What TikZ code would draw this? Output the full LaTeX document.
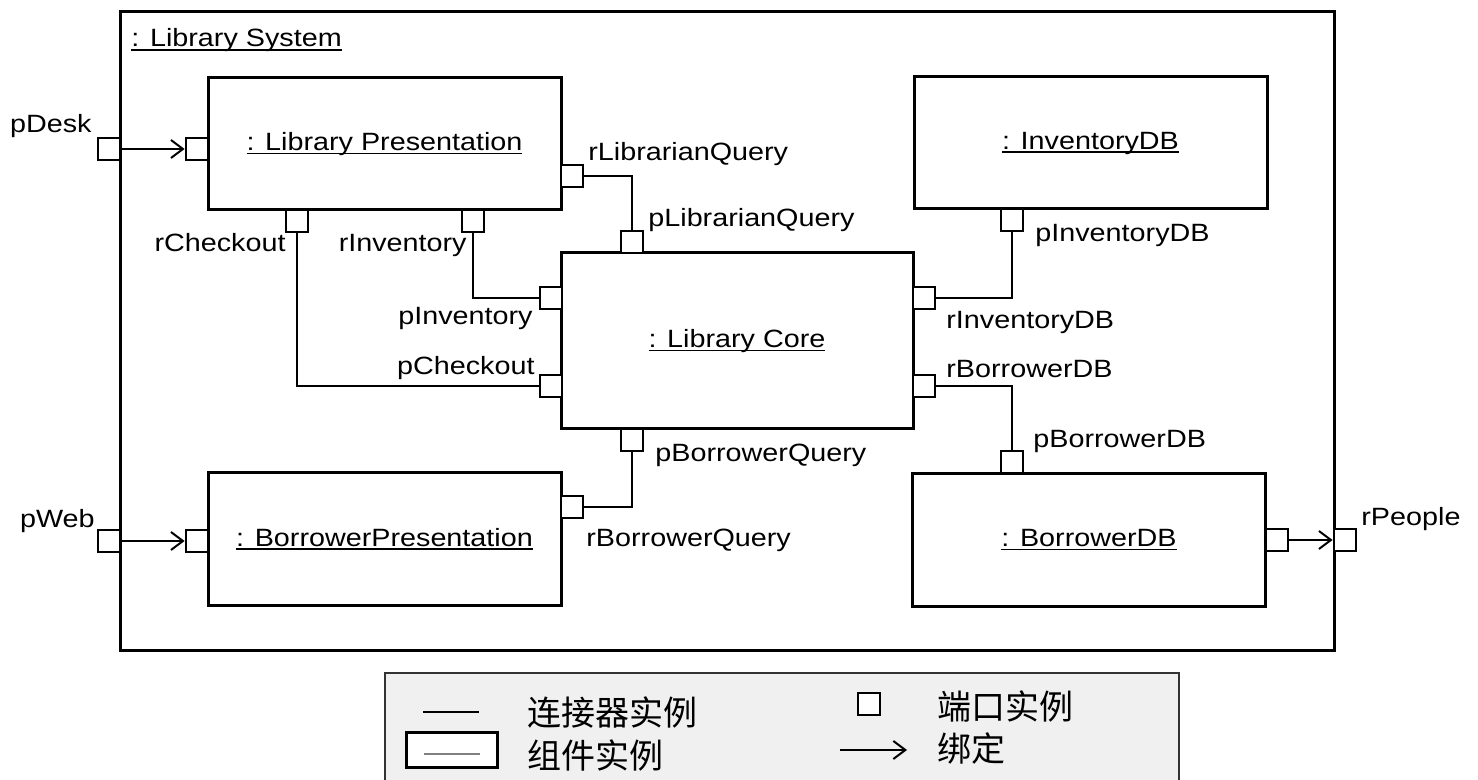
\documentclass[tikz,border=0pt]{standalone}
\usepackage{fontspec}
\setmainfont{Liberation Sans}[FakeStretch=1.15]
\newfontfamily\cjkfont{Noto Sans CJK SC}
\usetikzlibrary{arrows.meta,positioning}
\newsavebox\unamebox
\newcommand{\uname}[1]{\sbox\unamebox{#1}\rlap{\rule[-1.8pt]{\wd\unamebox}{0.75pt}}\usebox\unamebox}

\begin{document}
\begin{tikzpicture}[
    x=0.5pt, y=-0.5pt,
    font=\fontsize{12.5}{15}\selectfont,
    comp/.style={draw, line width=1.5pt, fill=white, minimum width=176.5pt, minimum height=66pt, inner sep=0pt},
    port/.style={draw, line width=1.35pt, fill=white, minimum size=11pt, inner sep=0pt},
    lbl/.style={inner sep=0pt},
    conn/.style={line width=1pt},
    bind/.style={line width=1pt, -{Straight Barb[length=6pt, width=9pt, line width=1pt]}},
    legtext/.style={font=\cjkfont\fontsize{17}{19}\selectfont, inner sep=0pt, anchor=west}
  ]
    \useasboundingbox (0,0) rectangle (1478,780);
    \clip (0,0) rectangle (1478,780);
    \fill[white] (0,0) rectangle (1478,780);

    \node[draw, line width=1.5pt, minimum width=607pt, minimum height=319pt] (system) at (727,331) {};
    \node[lbl, anchor=base west] (systemname) at (131,47) {\uname{: Library System}};

    \node[comp] (libpres) at (384.5,144) {\uname{: Library Presentation}};
    \node[comp] (invdb) at (1090.5,143) {\uname{: InventoryDB}};
    \node[comp, minimum width=176pt, minimum height=88pt] (core) at (737,341) {\uname{: Library Core}};
    \node[comp] (borrpres) at (384.5,539) {\uname{: BorrowerPresentation}};
    \node[comp] (borrdb) at (1089,540) {\uname{: BorrowerDB}};

    \node[port] (pdesk) at (109,149) {};
    \node[port] (lpin) at (197,149) {};
    \node[port] (rlq) at (572,176) {};
    \node[port] (rchk) at (297,221) {};
    \node[port] (rinv) at (473,221) {};
    \node[port] (plq) at (632,242) {};
    \node[port] (pinv) at (551,298) {};
    \node[port] (pchk) at (551,386) {};
    \node[port] (rinvdb) at (924,298) {};
    \node[port] (rbdb) at (924,386) {};
    \node[port] (pbq) at (632,440) {};
    \node[port] (pinvdb) at (1012,220) {};
    \node[port] (pbdb) at (1012,462) {};
    \node[port] (pweb) at (109,541) {};
    \node[port] (bpin) at (197,541) {};
    \node[port] (rbq) at (572,507) {};
    \node[port] (bdbout) at (1277,540) {};
    \node[port] (rpeople) at (1345,540) {};

    \node[lbl, anchor=base east] (tpdesk) at (92,133) {pDesk};
    \node[lbl, anchor=base east] (tpweb) at (95,528) {pWeb};
    \node[lbl, anchor=base west] (trlq) at (588,161) {rLibrarianQuery};
    \node[lbl, anchor=base west] (tplq) at (648,227) {pLibrarianQuery};
    \node[lbl, anchor=base east] (trchk) at (286,252) {rCheckout};
    \node[lbl, anchor=base east] (trinv) at (467,252) {rInventory};
    \node[lbl, anchor=base east] (tpinv) at (533,325) {pInventory};
    \node[lbl, anchor=base east] (tpchk) at (535,375) {pCheckout};
    \node[lbl, anchor=base west] (trinvdb) at (946,329) {rInventoryDB};
    \node[lbl, anchor=base west] (trbdb) at (946,378) {rBorrowerDB};
    \node[lbl, anchor=base west] (tpinvdb) at (1035,242) {pInventoryDB};
    \node[lbl, anchor=base west] (tpbdb) at (1033,448) {pBorrowerDB};
    \node[lbl, anchor=base west] (tpbq) at (655,462) {pBorrowerQuery};
    \node[lbl, anchor=base west] (trbq) at (586,546) {rBorrowerQuery};
    \node[lbl, anchor=base west] (trpeople) at (1361,525) {rPeople};

    \draw[conn] (rlq.east) -| (plq.north);
    \draw[conn] (rinv.south) |- (pinv.west);
    \draw[conn] (rchk.south) |- (pchk.west);
    \draw[conn] (rinvdb.east) -| (pinvdb.south);
    \draw[conn] (rbdb.east) -| (pbdb.north);
    \draw[conn] (rbq.east) -| (pbq.south);
    \draw[bind] (pdesk.east) -- (lpin.west);
    \draw[bind] (pweb.east) -- (bpin.west);
    \draw[bind] (bdbout.east) -- (rpeople.west);

    \node[draw=black!80, line width=0.8pt, fill=black!6, minimum width=397pt, minimum height=64pt, anchor=north west] (legend) at (384,672) {};
    \coordinate (legconnA) at (423,712);
    \coordinate (legconnB) at (479,712);
    \draw[conn] (legconnA) -- (legconnB);
    \node[legtext] (legconn) at (527,712) {连接器实例};
    \node[draw, line width=1.5pt, fill=white, minimum width=45.5pt, minimum height=17.5pt, inner sep=0pt] (legcomp) at (451.5,749.5) {};
    \draw[black!50, line width=1pt] ([xshift=-14pt, yshift=-2.25pt]legcomp.center) -- ([xshift=14pt, yshift=-2.25pt]legcomp.center);
    \node[legtext] (legcompt) at (527,755) {组件实例};
    \node[port] (legport) at (869,704) {};
    \node[legtext] (legportt) at (937,706) {端口实例};
    \coordinate (legbindA) at (840,750);
    \coordinate (legbindB) at (907,750);
    \draw[bind] (legbindA) -- (legbindB);
    \node[legtext] (legbind) at (937,749) {绑定};
\end{tikzpicture}
\end{document}
